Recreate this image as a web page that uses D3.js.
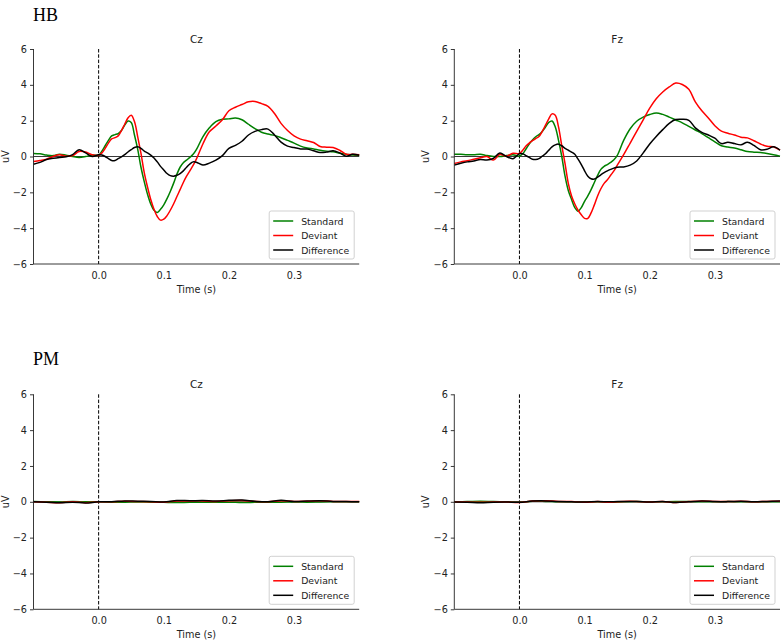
<!DOCTYPE html>
<html>
<head>
<meta charset="utf-8">
<script src="https://cdn.jsdelivr.net/npm/d3@7"></script>
<style>
  html, body { margin: 0; padding: 0; background: #fff; }
  svg { display: block; }
  text { font-family: "DejaVu Sans", sans-serif; fill: #222; }
</style>
</head>
<body>
<svg id="chart" width="782" height="640"></svg>
<script>
// ---------- DATA ----------
const times = [-0.1,-0.09,-0.08,-0.07,-0.06,-0.05,-0.04,-0.03,-0.02,-0.01,0,
  0.005,0.01,0.015,0.02,0.025,0.03,0.035,0.04,0.045,0.05,
  0.055,0.06,0.065,0.07,0.075,0.08,0.085,0.09,0.095,0.1,
  0.105,0.11,0.115,0.12,0.125,0.13,0.135,0.14,0.145,0.15,
  0.16,0.17,0.18,0.19,0.2,0.21,0.22,0.23,0.24,0.25,
  0.26,0.27,0.28,0.29,0.3,0.31,0.32,0.33,0.34,0.35,
  0.36,0.37,0.38,0.39,0.4];

const hbCzStandard = [0.17,0.15,0.08,0.05,0.13,0.07,0.0,-0.05,0.0,0.08,0.07,
  0.3,0.6,0.9,1.15,1.22,1.28,1.45,1.75,1.98,1.9,
  1.2,0.4,-0.6,-1.4,-2.1,-2.65,-3.0,-3.12,-2.95,-2.7,
  -2.35,-1.95,-1.5,-1.0,-0.6,-0.35,-0.2,-0.05,0.12,0.38,
  1.1,1.6,1.95,2.08,2.1,2.15,2.05,1.8,1.56,1.35,
  1.25,1.18,1.05,0.9,0.75,0.58,0.48,0.42,0.35,0.3,
  0.26,0.18,0.12,0.08,0.06];
const hbCzDeviant = [-0.28,-0.22,-0.15,0.0,0.1,0.02,0.05,0.28,0.25,0.1,0.07,
  0.2,0.45,0.75,0.98,1.05,1.15,1.45,1.8,2.15,2.3,
  1.95,1.1,0.17,-0.9,-1.7,-2.4,-2.95,-3.35,-3.55,-3.5,
  -3.3,-3.0,-2.65,-2.25,-1.85,-1.45,-1.1,-0.8,-0.5,-0.15,
  0.7,1.38,1.7,2.05,2.55,2.75,2.9,3.05,3.07,2.95,
  2.8,2.4,1.85,1.45,1.15,0.97,0.88,0.78,0.56,0.52,
  0.5,0.35,0.13,0.12,0.1];
const hbCzDifference = [-0.43,-0.33,-0.17,-0.1,-0.05,-0.02,0.1,0.38,0.2,0.0,0.1,
  0.08,0.0,-0.12,-0.22,-0.22,-0.12,-0.02,0.1,0.25,0.38,
  0.5,0.54,0.45,0.3,0.2,0.08,-0.08,-0.3,-0.55,-0.75,
  -0.95,-1.07,-1.1,-1.05,-0.95,-0.8,-0.6,-0.42,-0.3,-0.32,
  -0.48,-0.37,-0.2,0.05,0.45,0.62,0.85,1.2,1.4,1.5,
  1.53,1.2,0.8,0.58,0.5,0.42,0.42,0.32,0.22,0.25,
  0.32,0.2,0.02,0.12,0.07];

const hbFzStandard = [0.13,0.12,0.1,0.1,0.13,0.05,0.0,0.0,0.05,0.1,0.02,
  0.15,0.42,0.7,0.92,1.1,1.22,1.4,1.65,1.9,1.98,
  1.65,0.9,0.0,-1.1,-1.9,-2.4,-2.85,-3.05,-2.85,-2.5,
  -2.2,-1.85,-1.45,-1.05,-0.72,-0.55,-0.45,-0.33,-0.18,0.05,
  0.9,1.55,1.97,2.2,2.34,2.43,2.35,2.2,2.04,1.88,
  1.68,1.48,1.28,1.05,0.82,0.6,0.53,0.47,0.38,0.28,
  0.24,0.22,0.17,0.1,0.02];
const hbFzDeviant = [-0.39,-0.3,-0.24,-0.15,-0.07,0.0,-0.2,0.12,0.02,0.18,0.17,
  0.35,0.58,0.75,0.88,1.0,1.12,1.4,1.75,2.1,2.38,
  2.3,1.65,0.6,-0.4,-1.5,-2.2,-2.65,-3.0,-3.25,-3.45,
  -3.45,-3.15,-2.7,-2.2,-1.8,-1.5,-1.3,-1.05,-0.8,-0.5,
  0.1,0.75,1.4,2.05,2.7,3.22,3.6,3.88,4.1,4.02,
  3.75,3.05,2.55,2.15,1.72,1.42,1.3,1.2,1.08,1.04,
  0.88,0.7,0.57,0.54,0.35];
const hbFzDifference = [-0.48,-0.38,-0.3,-0.25,-0.17,-0.2,-0.1,0.2,0.0,-0.12,0.15,
  0.15,0.05,-0.05,-0.15,-0.17,-0.12,0.02,0.15,0.35,0.54,
  0.65,0.69,0.6,0.45,0.35,0.25,0.12,-0.15,-0.45,-0.8,
  -1.1,-1.24,-1.26,-1.15,-1.02,-0.9,-0.8,-0.72,-0.65,-0.6,
  -0.58,-0.48,-0.25,0.2,0.7,1.12,1.5,1.85,2.06,2.08,
  2.02,1.6,1.35,1.2,1.02,0.72,0.8,0.72,0.65,0.8,
  0.62,0.38,0.4,0.54,0.35];

const pmTimes = [-0.1,-0.08,-0.06,-0.04,-0.02,0,0.02,0.04,0.06,0.08,0.1,0.12,0.14,
  0.16,0.18,0.2,0.22,0.24,0.26,0.28,0.3,0.32,0.34,0.36,0.38,0.4];
const pmCzStandard = [0.02,0.0,-0.01,0.01,0.0,0.0,-0.02,-0.02,-0.01,-0.02,-0.03,-0.04,-0.03,
  -0.03,-0.03,-0.02,-0.04,-0.03,-0.02,-0.02,-0.01,-0.02,-0.01,0.0,0.0,0.0];
const pmCzDeviant = [0.0,-0.02,-0.05,0.0,-0.05,0.0,0.0,0.03,0.02,0.0,-0.02,0.04,0.05,
  0.05,0.02,0.06,0.07,0.02,0.0,0.06,0.02,0.03,0.06,0.02,0.02,0.01];
const pmCzDifference = [0.0,-0.02,-0.06,-0.02,-0.07,0.0,0.0,0.05,0.03,0.02,-0.01,0.07,0.06,
  0.07,0.04,0.08,0.1,0.03,0.0,0.08,0.02,0.04,0.06,0.02,0.01,0.0];
const pmFzStandard = [0.0,0.01,0.03,0.01,0.0,-0.02,0.03,0.02,0.0,0.0,-0.01,0.0,-0.02,
  0.0,0.01,0.0,0.0,0.01,0.02,0.0,0.0,0.01,0.0,0.0,0.0,0.0];
const pmFzDeviant = [-0.01,-0.01,-0.03,-0.01,-0.01,-0.04,0.05,0.06,0.02,0.01,-0.02,0.01,-0.02,
  0.02,0.02,-0.01,0.02,-0.04,0.01,0.04,0.02,0.01,0.03,0.0,0.02,0.03];
const pmFzDifference = [-0.01,-0.02,-0.06,-0.02,-0.01,-0.03,0.04,0.05,0.01,0.0,-0.01,0.01,0.0,
  0.02,0.02,-0.01,0.02,-0.04,0.0,0.05,0.02,0.01,0.03,0.0,0.02,0.04];

const seriesNames = ["Standard", "Deviant", "Difference"];
const seriesColors = ["#008000", "#ff0000", "#000000"];
const xTicks = [0.0, 0.1, 0.2, 0.3];
const yTicks = [-6, -4, -2, 0, 2, 4, 6];
const groupLabels = ["HB", "PM"];
const channelLabels = ["Cz", "Fz"];

// ---------- LAYOUT ----------
const svg = d3.select("#chart");
const colX = [33.5, 454.3];
const rowY = [49, 394.3];
const W = 325.7, H = 215;

const panels = [
  {g: 0, c: 0, t: times, s: [hbCzStandard, hbCzDeviant, hbCzDifference]},
  {g: 0, c: 1, t: times, s: [hbFzStandard, hbFzDeviant, hbFzDifference]},
  {g: 1, c: 0, t: pmTimes, s: [pmCzStandard, pmCzDeviant, pmCzDifference]},
  {g: 1, c: 1, t: pmTimes, s: [pmFzStandard, pmFzDeviant, pmFzDifference]}
];

// group labels
groupLabels.forEach((lab, i) => {
  svg.append("text")
    .attr("x", 33).attr("y", i === 0 ? 21 : 365)
    .style("font-family", '"Liberation Serif", "Times New Roman", serif')
    .style("font-size", "18px").style("fill", "#000")
    .text(lab);
});

panels.forEach(p => {
  const x0 = colX[p.c], y0 = rowY[p.g];
  const g = svg.append("g").attr("transform", `translate(${x0},${y0})`);
  const x = d3.scaleLinear().domain([-0.1, 0.4]).range([0, W]);
  const y = d3.scaleLinear().domain([-6, 6]).range([H, 0]);

  // zero line
  g.append("line").attr("x1", 0).attr("x2", W)
    .attr("y1", y(0)).attr("y2", y(0))
    .attr("stroke", "#222").attr("stroke-width", 0.9);
  // onset dashed line
  g.append("line").attr("x1", x(0)).attr("x2", x(0))
    .attr("y1", 0).attr("y2", H)
    .attr("stroke", "#000").attr("stroke-width", 1)
    .attr("stroke-dasharray", "3.5,1.8");

  // series
  const line = d3.line()
    .x((d, i) => x(p.t[i]))
    .y(d => y(d))
    .curve(d3.curveCatmullRom.alpha(0.5));
  p.s.forEach((vals, k) => {
    g.append("path").datum(vals)
      .attr("d", line)
      .attr("fill", "none")
      .attr("stroke", seriesColors[k])
      .attr("stroke-width", 1.5)
      .attr("stroke-linejoin", "round");
  });

  // axes
  const yAxis = d3.axisLeft(y).tickValues(yTicks).tickSize(3.5).tickPadding(3)
    .tickFormat(d => d < 0 ? "\u2212" + Math.abs(d) : String(d));
  const xAxis = d3.axisBottom(x).tickValues(xTicks).tickSize(0).tickPadding(8)
    .tickFormat(d3.format(".1f"));
  const ya = g.append("g").call(yAxis);
  const xa = g.append("g").attr("transform", `translate(0,${H})`).call(xAxis);
  [ya, xa].forEach(a => {
    a.select(".domain").attr("stroke", "#222").attr("stroke-width", 0.9);
    a.selectAll(".tick line").attr("stroke", "#222").attr("stroke-width", 0.9);
    a.selectAll("text").style("font-family", '"DejaVu Sans", sans-serif')
      .style("font-size", "9.7px").attr("fill", "#222");
  });
  ya.select(".domain").attr("d", `M0,0V${H}`);
  xa.select(".domain").attr("d", `M0,0H${W}`);

  // labels
  g.append("text").attr("x", W / 2).attr("y", -6)
    .attr("text-anchor", "middle").style("font-size", "10.5px")
    .text(channelLabels[p.c]);
  g.append("text").attr("x", W / 2).attr("y", H + 29)
    .attr("text-anchor", "middle").style("font-size", "9.7px")
    .text("Time (s)");
  g.append("text")
    .attr("transform", `translate(${-25},${H / 2}) rotate(-90)`)
    .attr("text-anchor", "middle").style("font-size", "9.7px")
    .text("uV");

  // legend
  const lg = g.append("g").attr("transform", `translate(${W - 90},${H - 53})`);
  lg.append("rect").attr("x", 0).attr("y", 0).attr("width", 85).attr("height", 48)
    .attr("rx", 2).attr("fill", "#fff").attr("fill-opacity", 0.85)
    .attr("stroke", "#ccc").attr("stroke-width", 0.9);
  seriesNames.forEach((nm, k) => {
    const ly = 10 + k * 14.5;
    lg.append("line").attr("x1", 4).attr("x2", 24).attr("y1", ly).attr("y2", ly)
      .attr("stroke", seriesColors[k]).attr("stroke-width", 1.5);
    lg.append("text").attr("x", 32).attr("y", ly + 3.5)
      .style("font-size", "9.3px").text(nm);
  });
});
</script>
</body>
</html>
